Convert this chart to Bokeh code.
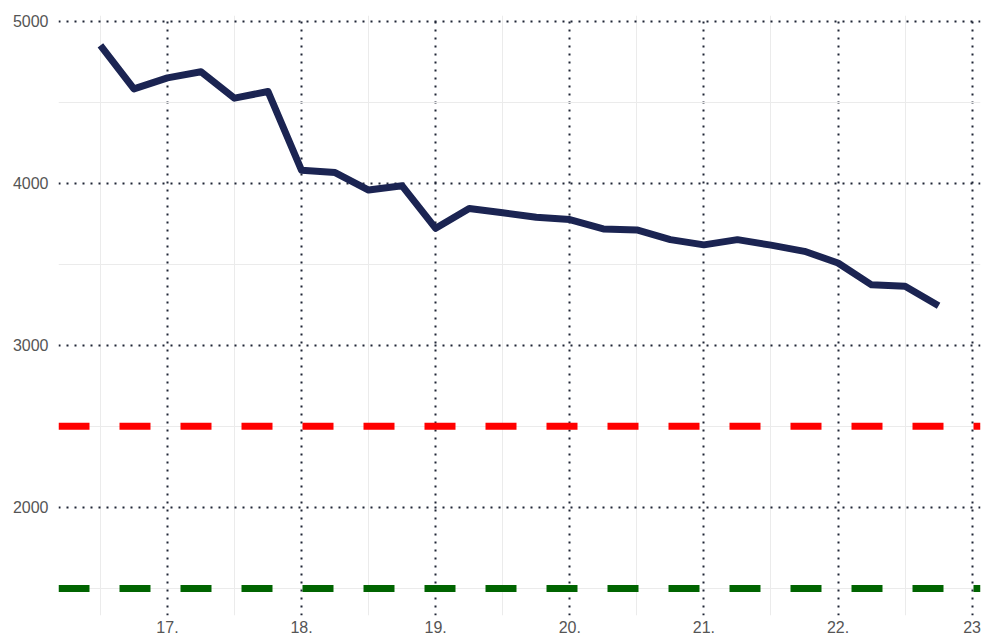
from bokeh.plotting import figure
from bokeh.models import FixedTicker, Span, Range1d
from bokeh.embed import file_html
from bokeh.resources import INLINE

# data
x_vals = [16.5, 16.75, 17.0, 17.25, 17.5, 17.75, 18.0, 18.25, 18.5, 18.75, 19.0, 19.25, 19.5,
          19.75, 20.0, 20.25, 20.5, 20.75, 21.0, 21.25, 21.5, 21.75, 22.0, 22.25, 22.5, 22.75]
y_vals = [4850, 4582, 4650, 4688, 4525, 4566, 4080, 4066, 3958, 3984, 3722, 3844, 3818,
          3790, 3776, 3718, 3712, 3652, 3620, 3652, 3618, 3580, 3508, 3373, 3364, 3244]
red_level = 2500
green_level = 1500
x_ticks = [17, 18, 19, 20, 21, 22, 23]
x_tick_labels = ["17.", "18.", "19.", "20.", "21.", "22.", "23"]
x_minor = [16.5, 17.5, 18.5, 19.5, 20.5, 21.5, 22.5]
y_ticks = [2000, 3000, 4000, 5000]
y_minor = [1500, 2500, 3500, 4500]

p = figure(width=981, height=636, output_backend="svg", toolbar_location=None,
           x_range=Range1d(16.1875, 23.0625), y_range=Range1d(1333, 5035),
           min_border_left=58, min_border_right=1, min_border_top=15, min_border_bottom=21)
p.outline_line_color = None
p.background_fill_color = "white"

p.xaxis.ticker = FixedTicker(ticks=x_ticks, minor_ticks=x_minor)
p.yaxis.ticker = FixedTicker(ticks=y_ticks, minor_ticks=y_minor)
p.xaxis.major_label_overrides = {t: l for t, l in zip(x_ticks, x_tick_labels)}

for ax in (p.xaxis, p.yaxis):
    ax.axis_line_color = None
    ax.major_tick_line_color = None
    ax.minor_tick_line_color = None
    ax.major_tick_out = 0
    ax.major_tick_in = 0
    ax.minor_tick_out = 0
    ax.major_label_text_font = "Liberation Sans"
    ax.major_label_text_font_size = "16px"
    ax.major_label_text_color = "#555555"
p.yaxis.major_label_standoff = 10
p.xaxis.major_label_standoff = 5

for g in (p.xgrid, p.ygrid):
    g.grid_line_color = "#1f2535"
    g.grid_line_width = 2
    g.grid_line_dash = "2 6"
    g.minor_grid_line_color = "#ebebeb"
    g.minor_grid_line_width = 1

p.add_layout(Span(location=red_level, dimension="width", line_color="#ff0000",
                  line_width=7, line_dash="31 30"))
p.add_layout(Span(location=green_level, dimension="width", line_color="#006400",
                  line_width=7, line_dash="31 30"))

p.line(x_vals, y_vals, line_width=7, line_color="#1b2452", line_join="round")

open("out.html", "w").write(file_html(p, INLINE))
